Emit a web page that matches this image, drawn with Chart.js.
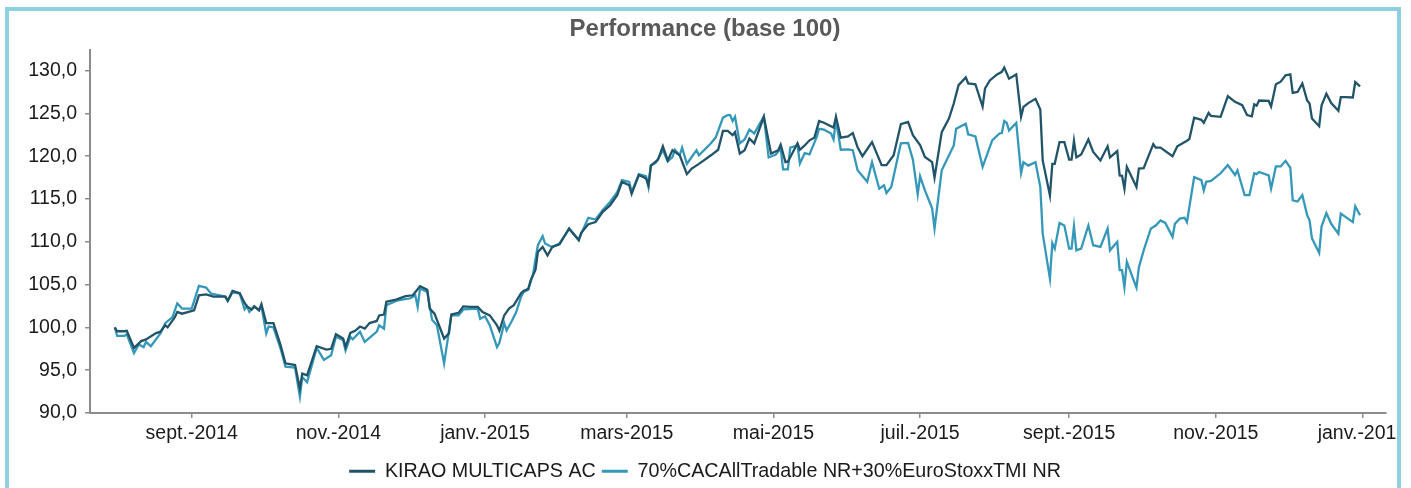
<!DOCTYPE html>
<html><head><meta charset="utf-8">
<script src="https://cdn.jsdelivr.net/npm/chart.js@4.4.0/dist/chart.umd.min.js"></script>
<style>
html,body{margin:0;padding:0;background:#fff;width:1411px;height:488px;overflow:hidden;}
#c{position:absolute;left:0;top:0;}
#frame{position:absolute;left:5px;top:7px;width:1388px;height:520px;border:4px solid #8fcfe5;border-bottom:none;pointer-events:none;}
</style></head><body>
<canvas id="c" width="1397" height="491"></canvas>
<div id="frame"></div>
<script>
// ---- data ----
const BASE_DATE = '2014-07-31';           // day 0 of the series (base 100)
const chartTitle = 'Performance (base 100)';
const seriesNames = ['KIRAO MULTICAPS AC', '70%CACAllTradable NR+30%EuroStoxxTMI NR'];
const tickDates = ['2014-09-01','2014-11-01','2015-01-01','2015-03-01','2015-05-01','2015-07-01','2015-09-01','2015-11-01','2016-01-01'];
const tickLabels = ['sept.-2014','nov.-2014','janv.-2015','mars-2015','mai-2015','juil.-2015','sept.-2015','nov.-2015','janv.-2016'];
const yTicks = [90,95,100,105,110,115,120,125,130];

// days since BASE_DATE
const kiraoDays = [0,1,4,5,8,11,13,17,19,21,22,25,26,28,33,35,38,41,46,47,49,52,54,55,57,58,60,61,63,66,67,69,71,75,77,78,80,84,88,90,92,95,96,98,100,102,104,106,109,110,112,113,117,119,121,124,127,130,131,133,137,139,140,143,145,148,151,153,156,159,160,162,164,166,169,170,172,173,175,176,178,180,182,185,189,193,194,197,200,203,206,209,211,214,215,218,221,222,223,226,228,230,232,235,238,240,243,248,251,253,255,257,258,260,262,264,266,270,273,276,277,279,280,284,285,287,289,291,293,295,299,300,302,305,307,309,311,315,317,319,321,324,327,330,332,335,337,340,341,344,347,349,351,354,355,358,361,362,364,367,369,370,372,375,377,378,380,383,385,386,389,390,391,393,395,397,398,399,400,402,405,407,410,413,414,417,418,419,420,421,425,426,428,432,433,435,440,442,446,447,449,452,453,455,456,460,463,466,469,471,473,474,475,476,480,481,483,485,487,489,490,492,494,496,497,498,501,502,504,506,509,510,512,515,516,518];
const kiraoValues = [100.0,99.55,99.55,99.6,97.6,98.4,98.6,99.3,99.5,100.25,100.0,101.2,101.8,101.6,102.0,103.75,103.85,103.6,103.6,103.1,104.25,104.0,102.85,102.45,102.1,102.45,102.0,102.7,100.5,100.5,99.65,97.9,95.8,95.6,92.85,94.6,94.4,97.8,97.4,97.5,99.2,98.7,97.7,99.35,99.6,100.1,99.85,100.5,100.75,101.4,101.5,103.0,103.25,103.45,103.65,103.75,104.8,104.4,102.2,101.6,98.7,99.3,101.5,101.7,102.45,102.4,102.4,101.8,101.4,100.25,99.6,101.4,102.2,102.6,104.0,104.25,104.5,105.5,106.7,108.8,109.4,108.4,109.4,109.7,111.55,110.2,111.05,112.05,112.3,113.5,114.25,115.45,117.0,116.6,115.6,117.8,117.4,116.6,118.9,119.6,121.15,119.5,120.7,120.1,117.9,118.55,119.1,120.1,120.75,122.95,122.95,122.45,122.8,120.3,120.7,122.05,121.5,124.6,120.3,120.7,121.35,119.3,119.35,121.5,120.75,121.25,121.85,122.15,124.1,123.9,123.35,124.6,122.15,122.3,122.7,121.05,120.0,121.65,120.3,118.95,118.95,120.1,123.75,124.0,122.45,121.3,119.9,119.3,117.5,122.8,124.4,126.15,128.3,129.2,128.5,128.4,125.8,127.9,128.85,129.55,129.85,130.35,129.05,129.55,124.6,125.75,126.2,126.7,125.45,119.5,115.4,119.1,119.1,121.65,121.65,119.6,119.6,121.8,119.85,120.2,121.95,120.5,119.5,121.15,119.85,120.6,117.75,117.7,116.2,118.75,116.4,118.55,118.6,121.4,121.0,121.0,120.0,121.15,121.8,122.0,124.5,124.25,123.9,125.05,124.7,124.6,127.0,126.35,125.95,124.8,124.65,126.05,125.9,126.5,126.45,125.8,128.4,128.7,129.45,129.55,127.4,127.5,128.5,126.5,126.15,124.4,123.5,125.95,127.3,126.2,125.3,126.9,126.9,126.85,128.65,128.15];

const benchDays = [0,1,4,5,8,10,12,13,15,19,21,24,26,28,32,35,38,40,46,47,49,52,54,55,56,58,60,61,63,64,66,69,71,75,77,78,80,84,87,90,92,95,96,98,99,102,104,109,110,112,113,117,119,123,125,126,127,130,132,134,137,140,143,145,151,152,154,156,159,160,162,163,165,167,169,170,172,174,176,178,179,181,182,185,189,193,195,197,200,203,206,209,211,214,215,218,221,222,223,225,228,230,232,233,235,236,238,240,242,243,248,250,253,255,256,257,258,260,262,264,266,270,272,275,277,278,280,281,284,285,287,289,292,293,295,298,299,300,302,305,307,309,313,315,318,320,321,323,327,330,332,334,335,337,340,341,344,349,350,354,355,358,361,365,368,369,370,371,372,375,377,378,380,383,385,386,389,390,391,393,395,397,398,399,400,402,405,407,410,413,414,417,418,419,420,421,425,426,428,431,433,435,437,440,441,443,445,446,449,452,453,454,456,460,463,466,467,469,470,472,474,475,476,480,481,483,485,487,489,490,492,494,496,497,498,501,502,504,506,509,510,515,516,518];
const benchValues = [100.0,99.0,99.0,99.2,97.0,98.0,97.7,98.3,97.8,99.3,100.5,101.2,102.8,102.2,102.2,104.85,104.65,103.95,103.6,103.1,104.1,103.95,102.1,102.45,101.8,102.45,102.0,102.5,99.3,100.1,100.0,97.5,95.4,95.3,91.9,94.2,93.6,97.6,96.2,96.75,98.9,98.5,97.3,98.9,98.6,99.5,98.3,99.5,100.25,99.85,102.6,103.1,103.2,103.4,103.75,102.4,104.55,104.15,100.9,100.25,95.8,101.4,101.4,102.1,102.2,101.0,101.3,100.25,97.7,98.2,100.5,99.65,100.65,101.8,103.55,104.1,104.4,106.2,109.6,110.65,109.8,109.5,109.4,109.8,111.5,110.2,111.55,112.8,112.6,113.7,114.65,115.8,117.2,117.0,115.8,117.9,117.65,116.4,118.9,119.2,120.7,119.4,119.9,120.75,120.1,121.0,119.1,119.9,120.7,120.1,121.5,122.2,124.5,124.8,124.8,124.1,124.6,121.5,121.95,123.1,122.65,124.65,119.85,120.2,120.9,118.45,118.45,121.0,121.25,119.15,120.35,120.2,122.25,123.2,123.1,122.65,121.95,124.2,120.75,120.8,120.7,118.35,117.0,119.3,116.2,116.6,115.7,116.4,121.5,121.55,119.6,115.55,117.65,116.0,113.9,111.55,118.35,121.25,123.2,123.8,122.55,122.3,118.75,121.85,122.65,122.7,124.1,123.9,123.0,123.9,118.05,119.3,118.9,119.3,116.4,110.95,105.7,109.85,109.2,112.2,111.9,109.2,109.2,111.8,109.0,109.2,111.9,109.6,109.4,111.55,109.0,110.0,106.7,106.7,104.7,107.65,104.65,107.0,109.0,111.55,111.9,112.5,112.2,110.55,112.1,112.7,112.8,112.3,117.55,117.2,116.0,117.0,117.1,118.0,118.95,117.8,118.35,116.4,115.45,115.45,118.0,117.9,118.15,117.75,116.2,118.8,118.8,119.45,118.65,114.85,114.7,115.45,113.1,112.5,110.4,108.7,111.8,113.35,112.1,110.95,113.3,112.3,114.15,113.1];

// ---- helpers ----
function dayOf(s){
  const p = s.split('-').map(Number), b = BASE_DATE.split('-').map(Number);
  return (Date.UTC(p[0],p[1]-1,p[2]) - Date.UTC(b[0],b[1]-1,b[2])) / 86400000;
}
const tickDays = tickDates.map(dayOf);
const FONT = "'Liberation Sans', Arial, Helvetica, sans-serif";
const DARK = '#215468', LIGHT = '#3598b9';
const AXIS = '#8c8c8c', TXT = '#1a1a1a';
const colors = [DARK, LIGHT];

new Chart(document.getElementById('c'), {
  type: 'line',
  data: {
    datasets: [
      {label: seriesNames[0], data: kiraoDays.map((d,i)=>({x:d, y:kiraoValues[i]})),
       borderColor: DARK, backgroundColor: DARK, borderWidth: 2.3, pointRadius: 0, tension: 0, fill: false},
      {label: seriesNames[1], data: benchDays.map((d,i)=>({x:d, y:benchValues[i]})),
       borderColor: LIGHT, backgroundColor: LIGHT, borderWidth: 2.3, pointRadius: 0, tension: 0, fill: false}
    ]
  },
  options: {
    responsive: false, animation: false, devicePixelRatio: 1,
    layout: {padding: {left: 24, right: 11, top: 0, bottom: 0}},
    plugins: {
      tooltip: {enabled: false},
      title: {display: true, text: chartTitle, color: '#595959',
              font: {family: FONT, size: 24, weight: 'bold'}, padding: {top: 15, bottom: 6.2}},
      legend: {position: 'bottom',
        labels: {boxWidth: 26, boxHeight: 3, padding: 6, color: TXT, font: {family: FONT, size: 19.7},
          generateLabels: (chart) => chart.data.datasets.map((ds, i) => ({
            text: ds.label, fillStyle: colors[i], strokeStyle: colors[i], lineWidth: 0,
            hidden: false, datasetIndex: i, fontColor: TXT}))
        }
      }
    },
    scales: {
      x: {
        type: 'linear', min: -10.3, max: 528.8,
        afterBuildTicks: (s) => { s.ticks = tickDays.map(v => ({value: v})); },
        afterFit: (s) => { s.height = 42.3; s.paddingLeft = 0; s.paddingRight = 0; },
        ticks: {autoSkip: false, maxRotation: 0, minRotation: 0, color: TXT, padding: 4,
                font: {family: FONT, size: 19.5}, callback: (v, i) => tickLabels[i]},
        grid: {display: true, drawOnChartArea: false, drawTicks: true, tickLength: 5, color: AXIS, lineWidth: 1.5},
        border: {display: true, color: AXIS, width: 2}
      },
      y: {
        min: 90, max: 132.4,
        afterBuildTicks: (s) => { s.ticks = yTicks.map(v => ({value: v})); },
        afterFit: (s) => { s.width = 66; s.paddingTop = 0; s.paddingBottom = 0; },
        ticks: {color: TXT, padding: 8, font: {family: FONT, size: 19.5},
                callback: (v) => Number(v).toFixed(1).replace('.', ',')},
        grid: {display: true, drawOnChartArea: false, drawTicks: true, tickLength: 5, color: AXIS, lineWidth: 1.5},
        border: {display: true, color: AXIS, width: 2}
      }
    }
  }
});
</script>
</body></html>
